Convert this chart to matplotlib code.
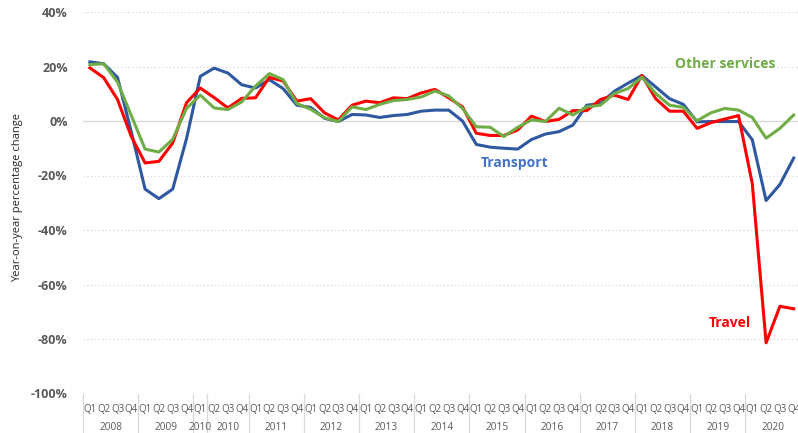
import matplotlib
matplotlib.use("Agg")
from matplotlib import pyplot as plt

quarters = ["Q1", "Q2", "Q3", "Q4"] * 13
years = ["2008", "2009", "2010", "2010", "2011", "2012", "2013", "2014",
         "2015", "2016", "2017", "2018", "2019", "2020"]
year_sizes = [4, 4, 1, 3, 4, 4, 4, 4, 4, 4, 4, 4, 4, 4]

transport = [21.7, 21.0, 16.0, -4.0, -25.0, -28.5, -25.0, -6.5,
             16.4, 19.4, 17.6, 13.3, 12.1, 15.2, 11.9, 5.8,
             5.0, 1.0, -0.2, 2.4, 2.2, 1.3, 2.0, 2.4,
             3.6, 4.0, 4.0, 0.0, -8.6, -9.6, -10.0, -10.3,
             -6.8, -4.8, -3.9, -1.5, 5.8, 6.4, 10.9, 13.9,
             16.7, 12.5, 8.2, 6.1, -0.3, -0.2, -0.2, -0.2,
             -6.9, -29.2, -23.3, -13.6]
travel = [19.5, 15.9, 7.9, -5.7, -15.4, -14.8, -8.1, 6.7,
          12.1, 8.6, 4.8, 8.3, 8.5, 16.0, 14.7, 7.3,
          8.2, 3.0, 0.4, 5.8, 7.3, 6.7, 8.5, 8.2,
          10.3, 11.6, 8.5, 5.2, -4.5, -5.3, -5.3, -3.3,
          1.8, -0.2, 0.6, 3.8, 3.8, 7.9, 9.5, 7.9,
          16.7, 8.2, 3.6, 3.6, -2.7, -0.6, 0.7, 2.0,
          -23.0, -81.4, -68.0, -68.9]
other = [20.7, 21.0, 14.3, 2.0, -10.3, -11.4, -6.7, 4.6,
         9.5, 4.8, 4.2, 7.0, 12.8, 17.4, 15.2, 6.4,
         4.3, 1.2, -0.2, 5.2, 4.2, 6.1, 7.5, 7.9,
         8.8, 11.0, 9.2, 4.6, -2.1, -2.3, -5.7, -2.3,
         0.4, -0.2, 4.7, 2.2, 5.2, 5.8, 10.1, 11.9,
         16.1, 10.1, 5.8, 5.0, 0.1, 3.0, 4.6, 4.0,
         1.3, -6.3, -2.7, 2.2]

plt.rcParams["font.family"] = ["Open Sans", "DejaVu Sans"]

fig = plt.figure(figsize=(7.98, 4.33), dpi=100)
ax = fig.add_axes([83 / 798, 1 - 393.5 / 433, 717.6 / 798, 381.5 / 433])

x = [i + 0.5 for i in range(len(quarters))]
ax.set_xlim(0, len(quarters))
ax.set_ylim(-100, 40)

yticks = list(range(-100, 41, 20))
for v in yticks:
    if v == 0:
        ax.axhline(v, color="#D9D9D9", lw=1.0, zorder=1)
    else:
        ax.axhline(v, color="#D9D9D9", lw=0.9, ls=(0, (1, 2)), zorder=1)

ax.plot(x, transport, color="#2E58A0", lw=2.2, zorder=3)
ax.plot(x, travel, color="#FF0000", lw=2.2, zorder=4)
ax.plot(x, other, color="#70AD47", lw=2.2, zorder=5)

ax.set_yticks(yticks)
ax.set_yticklabels([f"{v}%" for v in yticks], fontsize=9, fontweight="bold", color="#595959")
ax.tick_params(axis="y", length=0, pad=11)
ax.set_xticks([])
for s in ax.spines.values():
    s.set_visible(False)

fig.text(18 / 798, 1 - 198 / 433, "Year-on-year percentage change", rotation=90,
         ha="center", va="center", fontsize=8, color="#262626")

trans = ax.get_xaxis_transform()
for xi, q in zip(x, quarters):
    ax.text(xi, -0.041, q, transform=trans, ha="center", va="center",
            fontsize=7, color="#595959", clip_on=False)

pos = 0
ax.plot([0, 0], [0, -0.11], transform=trans, color="#D9D9D9", lw=0.9, clip_on=False)
for yr, n in zip(years, year_sizes):
    ax.text(pos + n / 2, -0.089, yr, transform=trans, ha="center", va="center",
            fontsize=7.3, color="#595959", clip_on=False)
    pos += n
    ax.plot([pos, pos], [0, -0.11], transform=trans, color="#D9D9D9", lw=0.9, clip_on=False)

ax.text(46.5, 20.8, "Other services", ha="center", va="center", fontsize=10,
        fontweight="bold", color="#70AD47")
ax.text(31.3, -15.5, "Transport", ha="center", va="center", fontsize=10,
        fontweight="bold", color="#4472C4")
ax.text(46.9, -74.3, "Travel", ha="center", va="center", fontsize=10,
        fontweight="bold", color="#FF0000")

fig.savefig("out.png", dpi=100)
